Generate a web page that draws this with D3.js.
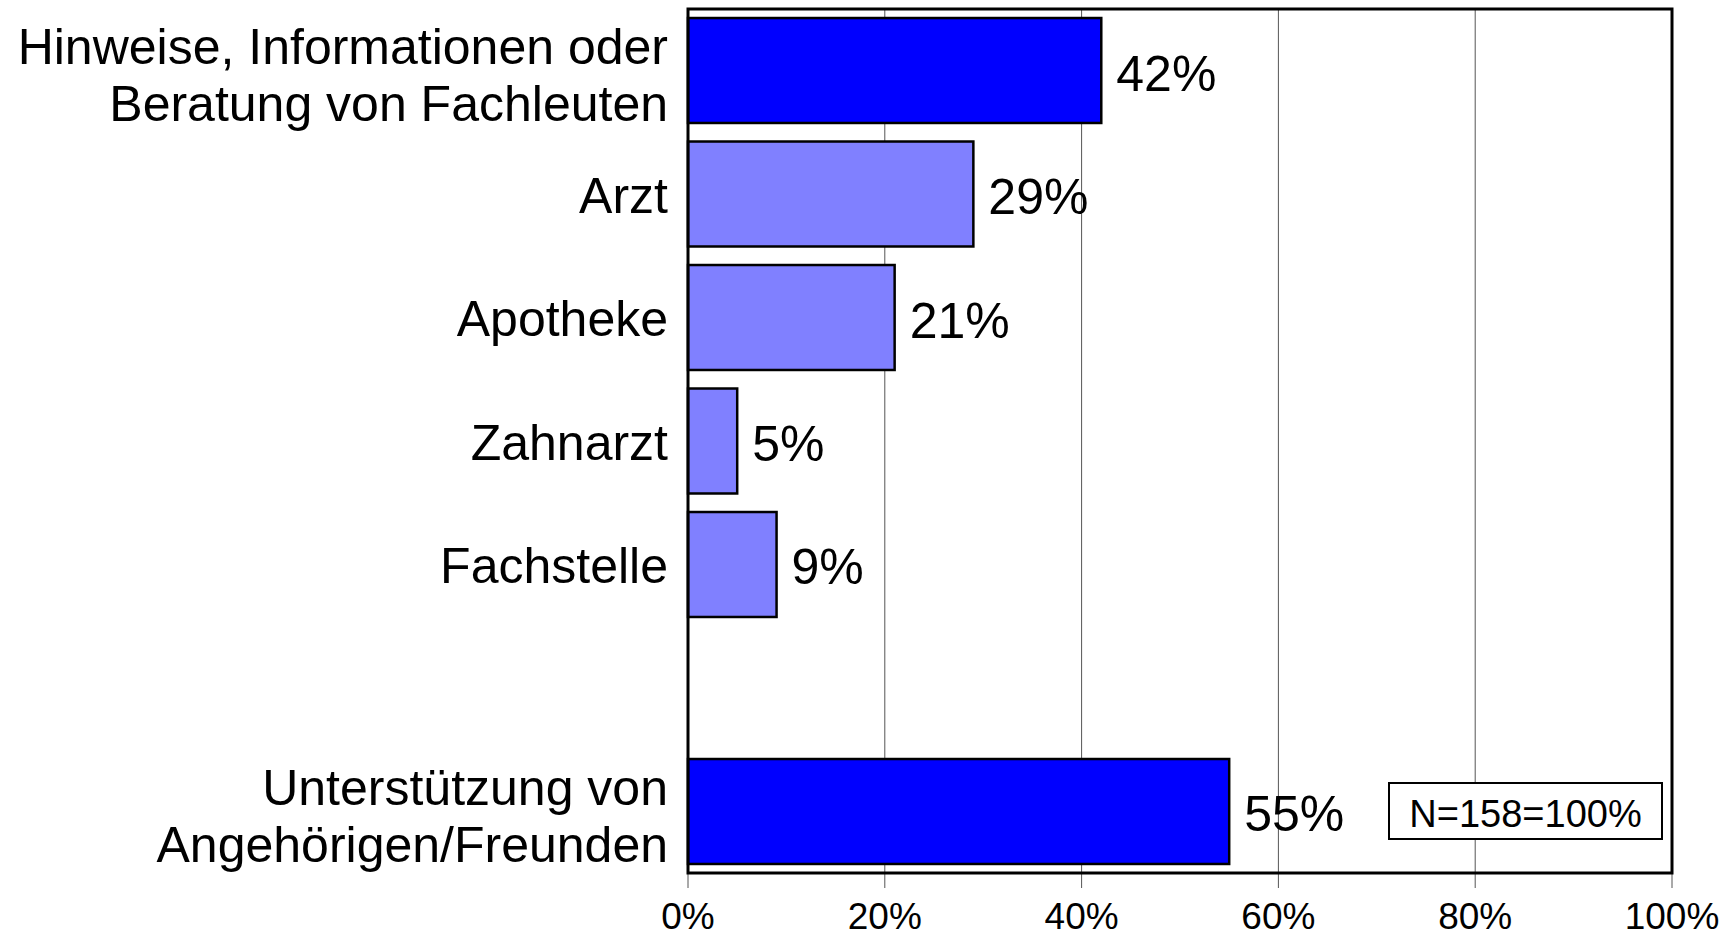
<!DOCTYPE html>
<html>
<head>
<meta charset="utf-8">
<script src="https://cdn.jsdelivr.net/npm/d3@7"></script>
<style>
  body { margin: 0; background: #fff; }
  text { font-family: "Liberation Sans", Arial, Helvetica, sans-serif; fill: #000; }
</style>
</head>
<body>
<div id="chart"></div>
<script>
// data
const categories = [
  "Hinweise, Informationen oder\nBeratung von Fachleuten",
  "Arzt",
  "Apotheke",
  "Zahnarzt",
  "Fachstelle",
  "",
  "Unterstützung von\nAngehörigen/Freunden"
];
const values = [42, 29, 21, 5, 9, null, 55];
const groups = ["main", "sub", "sub", "sub", "sub", "none", "main"];
const xTicks = [0, 20, 40, 60, 80, 100];
const note = "N=158=100%";

let width = 1734,
  height = 936;
let margin = { top: 9, right: 62, bottom: 63, left: 688 };

const x = d3
  .scaleLinear()
  .domain([0, 100])
  .range([margin.left, width - margin.right]);

const y = d3
  .scaleBand()
  .domain(categories)
  .range([margin.top, height - margin.bottom])
  .paddingInner(0.15)
  .paddingOuter(0.073);

const color = d3
  .scaleOrdinal()
  .domain(["main", "sub"])
  .range(["#0000ff", "#8080ff"]);

const svg = d3
  .select("#chart")
  .append("svg")
  .attr("width", width)
  .attr("height", height);

// grid lines + ticks below the frame
svg
  .append("g")
  .selectAll("line")
  .data(xTicks)
  .enter()
  .append("line")
  .attr("x1", d => x(d))
  .attr("x2", d => x(d))
  .attr("y1", margin.top)
  .attr("y2", height - margin.bottom + 15)
  .attr("stroke", "#555")
  .attr("stroke-width", 1);

// bars
const rows = categories.map((c, i) => ({ cat: c, value: values[i], group: groups[i] }));
const bars = rows.filter(d => d.value != null);

svg
  .append("g")
  .selectAll("rect")
  .data(bars)
  .enter()
  .append("rect")
  .attr("x", x(0))
  .attr("y", d => y(d.cat))
  .attr("width", d => x(d.value) - x(0))
  .attr("height", y.bandwidth())
  .attr("fill", d => color(d.group))
  .attr("stroke", "#000")
  .attr("stroke-width", 2.5);

// value labels
svg
  .append("g")
  .selectAll("text")
  .data(bars)
  .enter()
  .append("text")
  .attr("x", d => x(d.value) + 15)
  .attr("y", d => y(d.cat) + y.bandwidth() / 2 + 20)
  .style("font-size", "50px")
  .text(d => d.value + "%");

// category labels
const labels = svg
  .append("g")
  .selectAll("text")
  .data(rows.filter(d => d.cat !== ""))
  .enter()
  .append("text")
  .attr("text-anchor", "end")
  .style("font-size", "50px")
  .attr("transform", d => "translate(" + (margin.left - 20) + "," + (y(d.cat) + y.bandwidth() / 2) + ")");

labels.each(function(d) {
  const lines = d.cat.split("\n");
  const off = lines.length > 1 ? 22 - 28.5 * (lines.length - 1) : 18.5;
  d3.select(this)
    .selectAll("tspan")
    .data(lines)
    .enter()
    .append("tspan")
    .attr("x", 0)
    .attr("y", (l, i) => off + i * 57)
    .text(l => l);
});

// frame
svg
  .append("rect")
  .attr("x", margin.left)
  .attr("y", margin.top)
  .attr("width", x(100) - x(0))
  .attr("height", height - margin.bottom - margin.top)
  .attr("fill", "none")
  .attr("stroke", "#000")
  .attr("stroke-width", 3);

// x tick labels
svg
  .append("g")
  .selectAll("text")
  .data(xTicks)
  .enter()
  .append("text")
  .attr("x", d => x(d))
  .attr("y", 929)
  .attr("text-anchor", "middle")
  .style("font-size", "37px")
  .text(d => d + "%");

// N box
const nb = svg.append("g");
nb.append("rect")
  .attr("x", 1389)
  .attr("y", 783)
  .attr("width", 273)
  .attr("height", 56)
  .attr("fill", "#fff")
  .attr("stroke", "#000")
  .attr("stroke-width", 2);
nb.append("text")
  .attr("x", 1389 + 273 / 2)
  .attr("y", 827)
  .attr("text-anchor", "middle")
  .style("font-size", "38px")
  .text(note);
</script>
</body>
</html>
